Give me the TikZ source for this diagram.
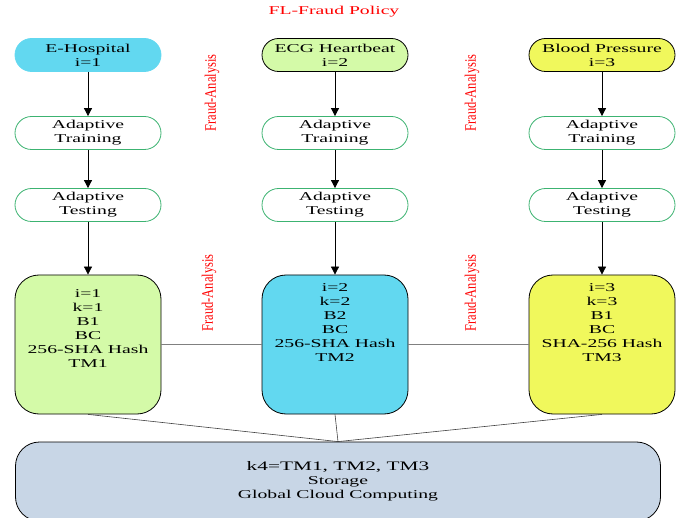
\documentclass[tikz,border=0pt]{standalone}
\usepackage{fontspec}
\setmainfont{Liberation Serif}[FakeStretch=1.64]
\newfontfamily\notefont{Liberation Serif}[FakeStretch=0.78]
\usepackage{tikz}
\usetikzlibrary{arrows.meta}
\definecolor{fl_cyan}{HTML}{62D8F0}
\definecolor{fl_green}{HTML}{D4FAA8}
\definecolor{fl_yellow}{HTML}{F0F85C}
\definecolor{fl_edge}{HTML}{3CB371}
\definecolor{fl_cloud}{HTML}{C8D6E6}
\tikzstyle{fl_text}=[align=center, font=\fontsize{12}{14}\selectfont, inner sep=0pt]
\tikzstyle{fl_source}=[fl_text, draw=black, line width=0.8pt, rounded corners=16.5pt, minimum width=146pt, minimum height=33pt]
\tikzstyle{fl_step}=[fl_source, draw=fl_edge, fill=white]
\tikzstyle{fl_block}=[fl_text, draw=black, line width=0.8pt, rounded corners=24pt, minimum width=146pt, minimum height=139pt]
\tikzstyle{fl_note}=[text=red, font=\notefont\fontsize{16}{18}\selectfont, rotate=90, inner sep=0pt]
\tikzstyle{fl_flow}=[-{Triangle[length=8pt,width=8pt]}, black, line width=0.8pt]
\tikzstyle{fl_link}=[black!75, line width=0.6pt]

\begin{document}
\begin{tikzpicture}[x=1pt, y=-1pt]
  \useasboundingbox (0,0) rectangle (693,518);
  \node[fl_text, text=red] (title) at (334,12){FL-Fraud Policy};
  % sources
  \node[fl_source, fill=fl_cyan, draw=fl_cyan] (src1) at (88,55){E-Hospital\\i=1};
  \node[fl_source, fill=fl_green] (src2) at (335,55){ECG Heartbeat\\i=2};
  \node[fl_source, fill=fl_yellow] (src3) at (602,55){Blood Pressure\\i=3};
  % training and testing
  \node[fl_step] (train1) at (88,133){Adaptive\\Training};
  \node[fl_step] (train2) at (335,133){Adaptive\\Training};
  \node[fl_step] (train3) at (602,133){Adaptive\\Training};
  \node[fl_step] (test1) at (88,205){Adaptive\\Testing};
  \node[fl_step] (test2) at (335,205){Adaptive\\Testing};
  \node[fl_step] (test3) at (602,205){Adaptive\\Testing};
  % blocks
  \node[fl_block, fill=fl_green] (block1) at (88,344.5){i=1\\k=1\\B1\\BC\\256-SHA Hash\\TM1\\[17pt]\mbox{}};
  \node[fl_block, fill=fl_cyan] (block2) at (335,344.5){i=2\\k=2\\B2\\BC\\256-SHA Hash\\TM2\\[29pt]\mbox{}};
  \node[fl_block, fill=fl_yellow] (block3) at (602,344.5){i=3\\k=3\\B1\\BC\\SHA-256 Hash\\TM3\\[29pt]\mbox{}};
  \node[fl_text, draw=black, line width=0.8pt, fill=fl_cloud, rounded corners=24pt,
        minimum width=645pt, minimum height=79pt] (cloud) at (338,481.5)
        {\fontsize{13}{14}\selectfont k4=TM1, TM2, TM3\\Storage\\Global Cloud Computing};
  % labels
  \node[fl_note] (fraud1) at (212,93){Fraud-Analysis};
  \node[fl_note] (fraud2) at (472,93){Fraud-Analysis};
  \node[fl_note] (fraud3) at (209,293){Fraud-Analysis};
  \node[fl_note] (fraud4) at (472,293){Fraud-Analysis};
  % connectors
  \draw[fl_flow](src1) -- (train1);
  \draw[fl_flow](train1) -- (test1);
  \draw[fl_flow](test1) -- (block1);
  \draw[fl_flow](src2) -- (train2);
  \draw[fl_flow](train2) -- (test2);
  \draw[fl_flow](test2) -- (block2);
  \draw[fl_flow](src3) -- (train3);
  \draw[fl_flow](train3) -- (test3);
  \draw[fl_flow](test3) -- (block3);
  \draw[fl_link, gray](block1) -- (block2);
  \draw[fl_link, gray](block2) -- (block3);
  \draw[fl_link](block1.south) -- (cloud.north);
  \draw[fl_link](block2.south) -- (cloud.north);
  \draw[fl_link](block3.south) -- (cloud.north);
\end{tikzpicture}
\end{document}
